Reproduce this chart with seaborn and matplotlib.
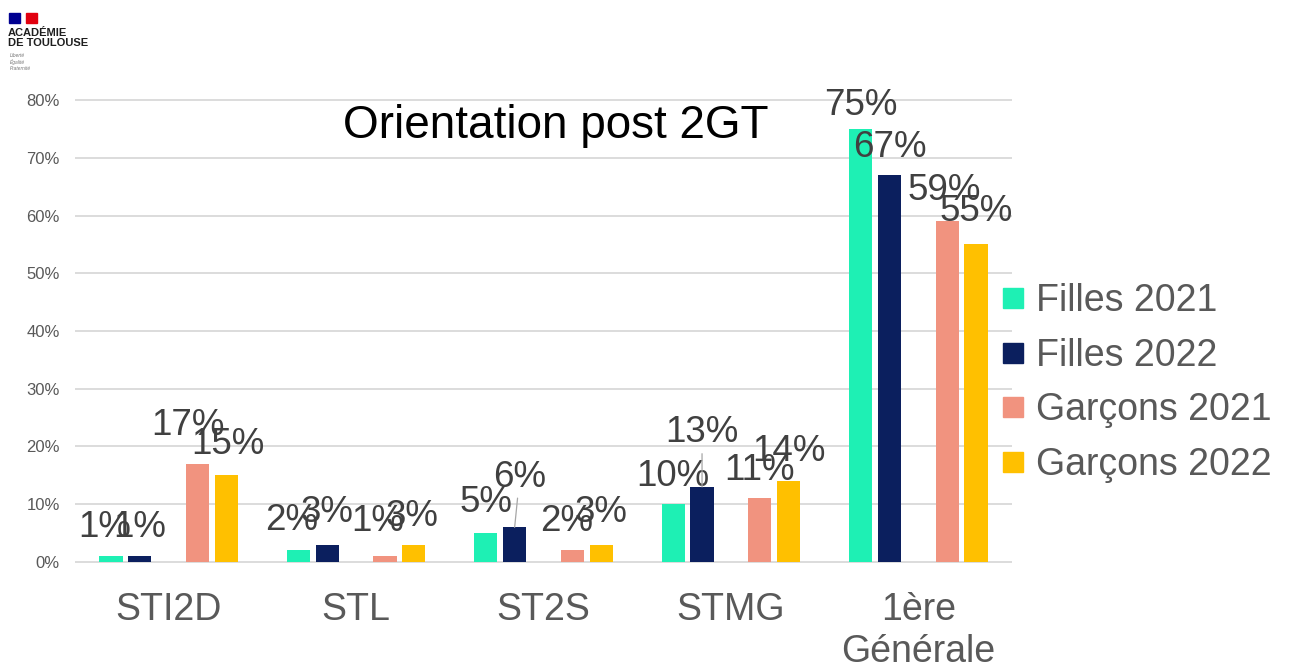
import numpy as np
import pandas as pd
import matplotlib
matplotlib.use("Agg")
import matplotlib.pyplot as plt
import seaborn as sns
from matplotlib.patches import Rectangle
from matplotlib.lines import Line2D

# ---------------- data ----------------
categories = ["STI2D", "STL", "ST2S", "STMG", "1ère\nGénérale"]
series = ["Filles 2021", "Filles 2022", "Garçons 2021", "Garçons 2022"]
filles_2021 = [1, 2, 5, 10, 75]
filles_2022 = [1, 3, 6, 13, 67]
garcons_2021 = [17, 1, 2, 11, 59]
garcons_2022 = [15, 3, 3, 14, 55]
y_ticks = [0, 10, 20, 30, 40, 50, 60, 70, 80]
title = "Orientation post 2GT"

# ---------------- styles ----------------
colors = ["#1EF0B4", "#0B1F5E", "#F1937F", "#FFC000"]
gap_level = " "
hue_order = series[:2] + [gap_level] + series[2:]
palette = dict(zip(series, colors))
palette[gap_level] = "#FFFFFF"

# label offsets (pixels): dx, dy of label centre from bar top
label_offsets = [
    [(-6, 29), (-7, 30), (0, 31), (0, 28), (0, 23)],
    [(0, 29), (0, 32), (5, 50), (0, 54), (0, 28)],
    [(-10, 38), (-7, 35), (-6, 29), (0, 28), (-3, 31)],
    [(1, 31), (-2, 28), (0, 32), (0, 30), (0, 33)],
]
leader = {(1, 2), (1, 3)}

sns.set_theme(style="white")
plt.rcParams["font.family"] = ["Liberation Sans", "DejaVu Sans"]

values = [filles_2021, filles_2022, garcons_2021, garcons_2022]
rows = []
for s, vals in zip(series, values):
    for c, v in zip(categories, vals):
        rows.append({"cat": c, "serie": s, "val": v})
for c in categories:
    rows.append({"cat": c, "serie": gap_level, "val": np.nan})
df = pd.DataFrame(rows)

W, H = 1290, 671
fig = plt.figure(figsize=(W / 100, H / 100), dpi=100)
ax = fig.add_axes([75 / W, 1 - 564.3 / H, 937 / W, 466.6 / H])

sns.barplot(data=df, x="cat", y="val", hue="serie", order=categories,
            hue_order=hue_order, palette=palette, width=0.77, gap=0.2,
            saturation=1, linewidth=0, errorbar=None, legend=False, ax=ax)

ax.set_ylim(-0.4, 80.4)
ax.set_xlim(-0.5, len(categories) - 0.5)
ax.set_yticks(y_ticks)
ax.set_yticklabels([f"{t}%" for t in y_ticks])
ax.yaxis.grid(True, color="#D9D9D9", linewidth=1.3)
ax.set_axisbelow(True)
for sp in ax.spines.values():
    sp.set_visible(False)
ax.set_xlabel("")
ax.set_ylabel("")
ax.tick_params(axis="y", length=0, pad=11, labelsize=12, labelcolor="#595959")
ax.tick_params(axis="x", length=0, pad=20, labelsize=27, labelcolor="#595959")

# data labels
conts = [c for c in ax.containers if len(c.patches) > 0]
if len(conts) == 5:
    conts = conts[:2] + conts[3:]
for si, cont in enumerate(conts):
    for ci, bar in enumerate(cont.patches):
        h = bar.get_height()
        if not np.isfinite(h):
            continue
        x = bar.get_x() + bar.get_width() / 2
        dx, dy = label_offsets[si][ci]
        kw = {}
        if (si, ci) in leader:
            kw["arrowprops"] = dict(arrowstyle="-", color="#A6A6A6", lw=0.9,
                                    shrinkA=0, shrinkB=0)
        ax.annotate(f"{values[si][ci]}%", xy=(x, h),
                    xytext=(dx * 0.72, dy * 0.72), textcoords="offset points",
                    ha="center", va="center", fontsize=26.5, color="#404040",
                    annotation_clip=False, **kw)

# title
fig.text(556 / W, 1 - 126 / H, title, ha="center", va="center",
         fontsize=33, color="#000000")

# legend
handles = [Line2D([0], [0], marker="s", linestyle="", markersize=14,
                  markerfacecolor=col, markeredgecolor=col) for col in colors]
leg = fig.legend(handles, series, loc="center left",
                 bbox_to_anchor=(1002 / W, 1 - 383 / H), frameon=False,
                 fontsize=27, labelspacing=0.5, handlelength=0.6,
                 handletextpad=0.3, borderpad=0, borderaxespad=0)
for t in leg.get_texts():
    t.set_color("#595959")

# logo
fig.patches.append(Rectangle((9 / W, 1 - 23 / H), 11 / W, 10 / H,
                             transform=fig.transFigure, color="#000091"))
fig.patches.append(Rectangle((26 / W, 1 - 23 / H), 11 / W, 10 / H,
                             transform=fig.transFigure, color="#E1000F"))
fig.text(8 / W, 1 - 33 / H, "ACADÉMIE", fontsize=8, fontweight="bold",
         color="#1E1E1E", va="center", ha="left")
fig.text(8 / W, 1 - 43.5 / H, "DE TOULOUSE", fontsize=8, fontweight="bold",
         color="#1E1E1E", va="center", ha="left")
fig.text(10 / W, 1 - 62 / H, "Liberté\nÉgalité\nFraternité", fontsize=3.5,
         style="italic", color="#777777", va="center", ha="left",
         linespacing=1.3)

fig.savefig("out.png", dpi=100)
